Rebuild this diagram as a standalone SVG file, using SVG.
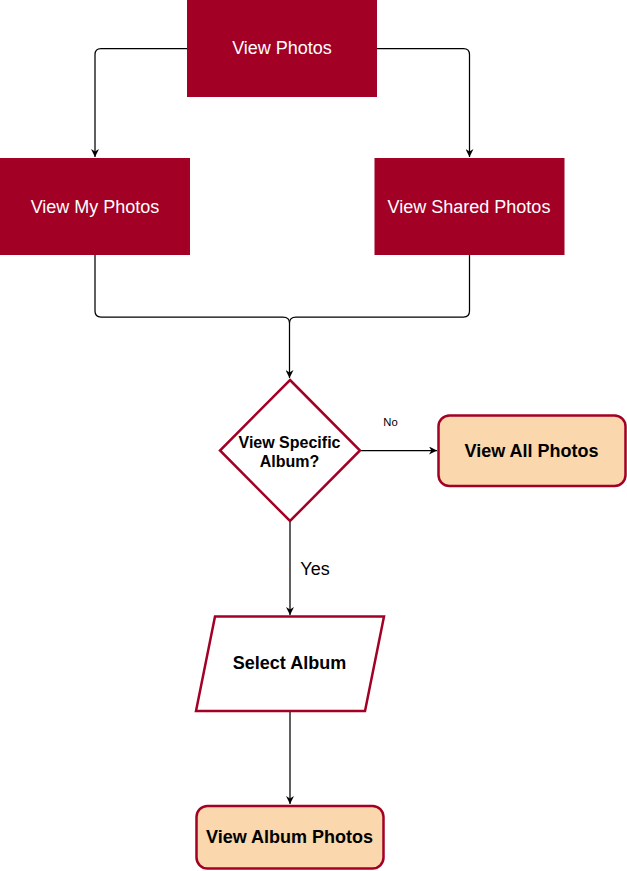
<svg xmlns="http://www.w3.org/2000/svg" width="627" height="871" viewBox="0 0 627 871">
<style>
.red{fill:#A20025;stroke:#A20025;stroke-width:1}
.wt{fill:#FFFFFF;font-family:"Liberation Sans",Arial,sans-serif;font-size:18px;text-anchor:middle}
.bt{fill:#000000;font-family:"Liberation Sans",Arial,sans-serif;font-size:18px;font-weight:bold;text-anchor:middle}
.dt{fill:#000000;font-family:"Liberation Sans",Arial,sans-serif;font-size:16px;font-weight:bold;text-anchor:middle}
.term{fill:#FAD7AC;stroke:#A20025;stroke-width:2.5}
.edge{fill:none;stroke:#000000;stroke-width:1.25}
.lbl{fill:#000000;font-family:"Liberation Sans",Arial,sans-serif;text-anchor:middle}
</style>
<defs>
<marker id="arr" viewBox="0 0 10 10" refX="10" refY="5" markerWidth="8" markerHeight="8" markerUnits="userSpaceOnUse" orient="auto">
<path d="M0,0 L10,5 L0,10 L3,5 Z" fill="#000000"/>
</marker>
</defs>
<rect width="627" height="871" fill="#FFFFFF"/>
<g id="connectors">
<path class="edge" d="M187,48.5 H101 Q95,48.5 95,54.5 V157" marker-end="url(#arr)"/>
<path class="edge" d="M377,48.5 H463.5 Q469.5,48.5 469.5,54.5 V157" marker-end="url(#arr)"/>
<path class="edge" d="M95,255 V311 Q95,317 101,317 H283 Q289.5,317 289.5,323"/>
<path class="edge" d="M469.5,255 V311 Q469.5,317 463.5,317 H296 Q289.5,317 289.5,323 V378" marker-end="url(#arr)"/>
<path class="edge" d="M361,450.5 H437" marker-end="url(#arr)"/>
<path class="edge" d="M290,522 V615" marker-end="url(#arr)"/>
<path class="edge" d="M290,711 V804" marker-end="url(#arr)"/>
<text class="lbl" x="390.5" y="425.5" font-size="11.25px">No</text>
<text class="lbl" x="315" y="574.5" font-size="18px">Yes</text>
</g>
<g id="view-photos">
<rect class="red" x="187.5" y="-1" width="189" height="97.5"/>
<text class="wt" x="282" y="54">View Photos</text>
</g>
<g id="view-my-photos">
<rect class="red" x="0.5" y="158.5" width="189" height="96"/>
<text class="wt" x="95" y="212.5">View My Photos</text>
</g>
<g id="view-shared-photos">
<rect class="red" x="375" y="158.5" width="189" height="96"/>
<text class="wt" x="469" y="212.5">View Shared Photos</text>
</g>
<g id="view-specific-album">
<polygon points="290,380 360,450.5 290,521 220,450.5" fill="#FFFFFF" stroke="#A20025" stroke-width="2.5"/>
<text class="dt" x="289.5" y="447.5">View Specific</text>
<text class="dt" x="289.5" y="466.5">Album?</text>
</g>
<g id="view-all-photos">
<rect class="term" x="438.5" y="415.5" width="187" height="70.5" rx="11" ry="11"/>
<text class="bt" x="531.5" y="457">View All Photos</text>
</g>
<g id="select-album">
<polygon points="215,616.5 384,616.5 365,711 196,711" fill="#FFFFFF" stroke="#A20025" stroke-width="2.5"/>
<text class="bt" x="289.5" y="669">Select Album</text>
</g>
<g id="view-album-photos">
<rect class="term" x="196.5" y="806" width="187" height="62.5" rx="11" ry="11"/>
<text class="bt" x="289.5" y="843">View Album Photos</text>
</g>
</svg>
